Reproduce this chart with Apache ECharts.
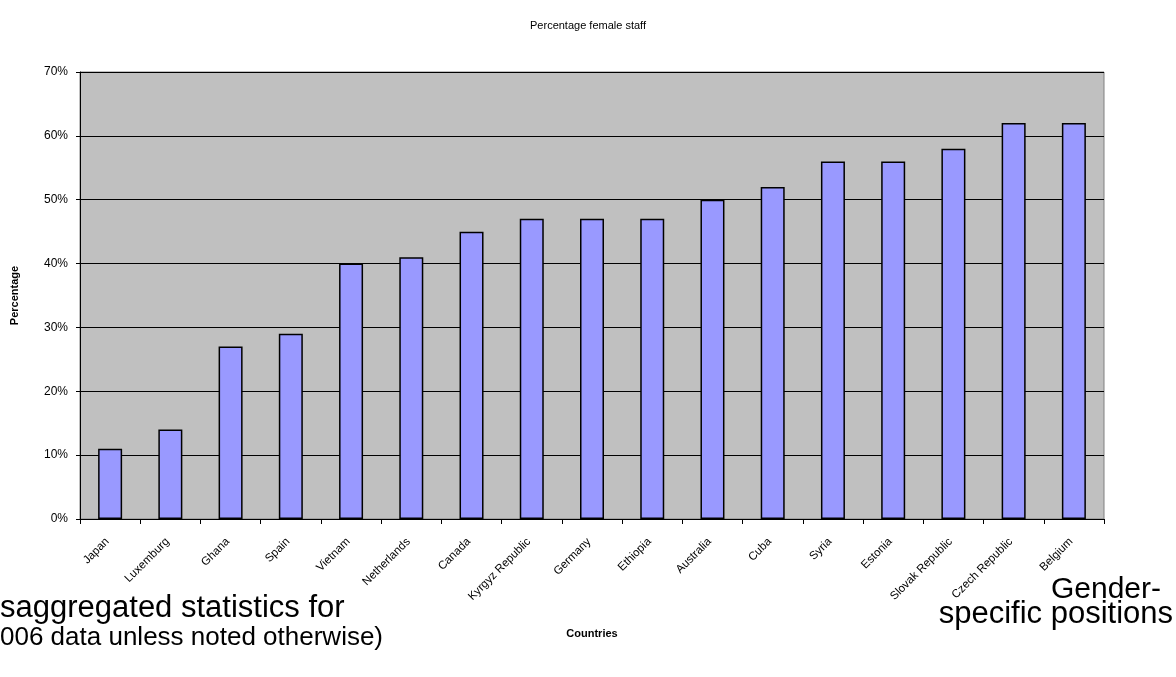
<!DOCTYPE html>
<html>
<head>
<meta charset="utf-8">
<title>Percentage female staff</title>
<script src="https://cdn.jsdelivr.net/npm/echarts@6/dist/echarts.min.js"></script>
<style>
  html, body { margin: 0; padding: 0; background: #fff; }
  #chart { width: 1176px; height: 677px; }
</style>
</head>
<body>
<div id="chart"></div>
<script>
// Countries ordered by share of women on staff
const countries = [
  'Japan', 'Luxemburg', 'Ghana', 'Spain', 'Vietnam', 'Netherlands', 'Canada',
  'Kyrgyz Republic', 'Germany', 'Ethiopia', 'Australia', 'Cuba', 'Syria',
  'Estonia', 'Slovak Republic', 'Czech Republic', 'Belgium'
];
// Female staff, percent
const femaleShare = [11, 14, 27, 29, 40, 41, 45, 47, 47, 47, 50, 52, 56, 56, 58, 62, 62];
// Value axis range and step, percent
const yMin = 0;
const yMax = 70;
const yStep = 10;

const titleText = 'Percentage female staff';
const xName = 'Countries';
const yName = 'Percentage';
const noteLeft1 = 'saggregated statistics for';
const noteLeft2 = '006 data unless noted otherwise)';
const noteRight1 = 'Gender-';
const noteRight2 = 'specific positions';

const FONT = '"Liberation Sans", Arial, sans-serif';

const chart = echarts.init(document.getElementById('chart'), null, { renderer: 'canvas' });

chart.setOption({
  animation: false,
  backgroundColor: '#ffffff',
  title: {
    text: titleText,
    left: 'center',
    top: 15,
    textStyle: { fontFamily: FONT, fontSize: 11, fontWeight: 'normal', color: '#000' }
  },
  grid: {
    left: 80,
    right: 72,
    top: 72,
    bottom: 158,
    show: true,
    backgroundColor: '#c0c0c0',
    borderColor: '#808080',
    borderWidth: 1
  },
  xAxis: {
    type: 'category',
    data: countries,
    name: xName,
    nameLocation: 'middle',
    nameGap: 109,
    nameTextStyle: { fontFamily: FONT, fontSize: 11, fontWeight: 'bold', color: '#000' },
    axisLine: { show: true, lineStyle: { color: '#000', width: 1 } },
    axisTick: { show: true, alignWithLabel: false, length: 5, lineStyle: { color: '#000' } },
    axisLabel: {
      interval: 0,
      rotate: 45,
      margin: 18,
      padding: [0, 4, 0, 0],
      fontFamily: FONT,
      fontSize: 11.5,
      color: '#000'
    },
    splitLine: { show: false }
  },
  yAxis: {
    type: 'value',
    min: yMin,
    max: yMax,
    interval: yStep,
    name: yName,
    nameLocation: 'middle',
    nameGap: 60,
    nameRotate: 90,
    nameTextStyle: { fontFamily: FONT, fontSize: 11, fontWeight: 'bold', color: '#000' },
    axisLine: { show: true, lineStyle: { color: '#000', width: 1 } },
    axisTick: { show: true, length: 4, lineStyle: { color: '#000' } },
    axisLabel: {
      margin: 12,
      fontFamily: FONT,
      fontSize: 12,
      color: '#000',
      formatter: v => v + '%'
    },
    splitLine: { show: true, lineStyle: { color: '#000', width: 1 } }
  },
  series: [{
    type: 'bar',
    data: femaleShare,
    barWidth: 24,
    itemStyle: {
      color: '#9999ff',
      borderColor: '#000',
      borderWidth: 1.5
    }
  }],
  graphic: [
    {
      type: 'text',
      left: 0,
      top: 593,
      style: { text: noteLeft1, fontFamily: FONT, fontSize: 31, fill: '#000' }
    },
    {
      type: 'text',
      left: 0,
      top: 625,
      style: { text: noteLeft2, fontFamily: FONT, fontSize: 26, fill: '#000' }
    },
    {
      type: 'text',
      right: 15,
      top: 575,
      style: { text: noteRight1, fontFamily: FONT, fontSize: 30, fill: '#000' }
    },
    {
      type: 'text',
      right: 3,
      top: 599,
      style: { text: noteRight2, fontFamily: FONT, fontSize: 31, fill: '#000' }
    }
  ]
});
</script>
</body>
</html>
